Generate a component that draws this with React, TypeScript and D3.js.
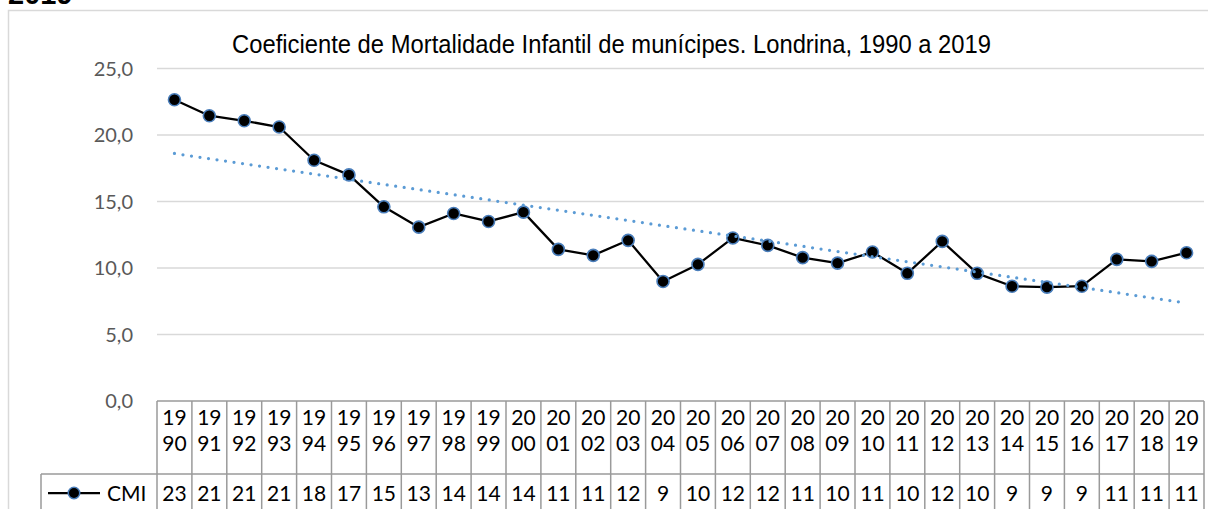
import React from "react";
import * as d3 from "d3";

const years = [1990,1991,1992,1993,1994,1995,1996,1997,1998,1999,2000,2001,2002,2003,2004,2005,2006,2007,2008,2009,2010,2011,2012,2013,2014,2015,2016,2017,2018,2019];
const cmi = [22.65,21.45,21.07,20.6,18.1,17.0,14.6,13.07,14.1,13.5,14.2,11.4,10.95,12.08,8.99,10.27,12.26,11.7,10.78,10.37,11.2,9.6,12.0,9.6,8.63,8.56,8.63,10.65,10.5,11.15];
const tableLabels = ["23","21","21","21","18","17","15","13","14","14","14","11","11","12","9","10","12","12","11","10","11","10","12","10","9","9","9","11","11","11"];
const yTicks = [0,5,10,15,20,25];
const title = "Coeficiente de Mortalidade Infantil de munícipes. Londrina, 1990 a 2019";
const seriesName = "CMI";

const W = 1208, H = 509;
const plotL = 157, plotR = 1204, yTop = 68.5, yBot = 401;
const FONT = "Lato, 'Open Sans', sans-serif";

export default function App() {
  const x = d3.scaleBand<number>().domain(years).range([plotL, plotR]);
  const y = d3.scaleLinear().domain([0, 25]).range([yBot, yTop]);
  const cx = (yr: number) => (x(yr) as number) + x.bandwidth() / 2;

  const line = d3.line<number>().x((_, i) => cx(years[i])).y((v) => y(v));

  // linear trendline (least squares on index)
  const n = cmi.length;
  const xs = cmi.map((_, i) => i + 1);
  const mx = d3.mean(xs) as number;
  const my = d3.mean(cmi) as number;
  const slope = d3.sum(xs.map((xi, i) => (xi - mx) * (cmi[i] - my))) / d3.sum(xs.map((xi) => (xi - mx) ** 2));
  const icpt = my - slope * mx;
  const t0 = icpt + slope * 1;
  const t1 = icpt + slope * n;

  const bw = x.bandwidth();
  const row1Top = 401, row2Top = 474, row2Bot = 520;
  const tableLeft = 41;
  const gridColor = "#d9d9d9";
  const tblColor = "#9a9a9a";

  return (
    <svg width={W} height={H} style={{ position: "absolute", left: 0, top: 0, background: "#fff" }}>
      <text x={8} y={4} fontFamily="'Liberation Sans', Arial, sans-serif" fontWeight="bold" fontSize={29} fill="#000">2019</text>
      <rect x={8.5} y={10.5} width={1220} height={520} fill="#fff" stroke={gridColor} strokeWidth={1.5} />
      <g transform="translate(611.5,52.5) scale(1,1.2)">
        <text x={0} y={0} textAnchor="middle" fontFamily="'Liberation Sans', Arial, sans-serif" fontSize={21} fill="#000" textLength={759} lengthAdjust="spacingAndGlyphs">{title}</text>
      </g>
      {yTicks.map((t) => (
        <g key={t}>
          {t > 0 && <line x1={plotL} x2={plotR} y1={y(t)} y2={y(t)} stroke={gridColor} strokeWidth={1.5} />}
          <text x={133} y={y(t)} dy="0.36em" textAnchor="end" fontFamily={FONT} fontSize={20} fill="#595959">{d3.format(".1f")(t).replace(".", ",")}</text>
        </g>
      ))}
      {/* table */}
      <g stroke={tblColor} strokeWidth={1.5} fill="none">
        <line x1={plotL} x2={plotR} y1={row1Top} y2={row1Top} />
        <line x1={tableLeft} x2={plotR} y1={row2Top} y2={row2Top} />
        <line x1={tableLeft} x2={tableLeft} y1={row2Top} y2={row2Bot} />
        <line x1={plotL} x2={plotL} y1={row1Top} y2={row2Bot} />
        {years.map((yr) => (
          <line key={yr} x1={(x(yr) as number) + bw} x2={(x(yr) as number) + bw} y1={row1Top} y2={row2Bot} />
        ))}
      </g>
      {years.map((yr, i) => {
        const s = String(yr);
        return (
          <g key={yr} fontFamily={FONT} fontSize={21} fill="#000" textAnchor="middle">
            <text x={cx(yr)} y={417} dy="0.36em">{s.slice(0, 2)}</text>
            <text x={cx(yr)} y={443} dy="0.36em">{s.slice(2)}</text>
            <text x={cx(yr)} y={493} dy="0.36em">{tableLabels[i]}</text>
          </g>
        );
      })}
      {/* legend key */}
      <line x1={48} x2={100} y1={493} y2={493} stroke="#000" strokeWidth={2.25} />
      <circle cx={74} cy={493} r={5.75} fill="#000" stroke="#4a7ebb" strokeWidth={1.5} />
      <text x={107} y={493} dy="0.36em" fontFamily={FONT} fontSize={21} fill="#000">{seriesName}</text>
      {/* series */}
      <path d={line(cmi) || ""} fill="none" stroke="#000" strokeWidth={2.25} strokeLinejoin="round" />
      {cmi.map((v, i) => (
        <circle key={i} cx={cx(years[i])} cy={y(v)} r={6} fill="#000" stroke="#4a7ebb" strokeWidth={1.6} />
      ))}
      {/* trendline */}
      <line x1={cx(years[0])} x2={cx(years[n - 1])} y1={y(t0)} y2={y(t1)} stroke="#5b9bd5" strokeWidth={3.25} strokeDasharray="0 8.6" strokeLinecap="round" />
    </svg>
  );
}
